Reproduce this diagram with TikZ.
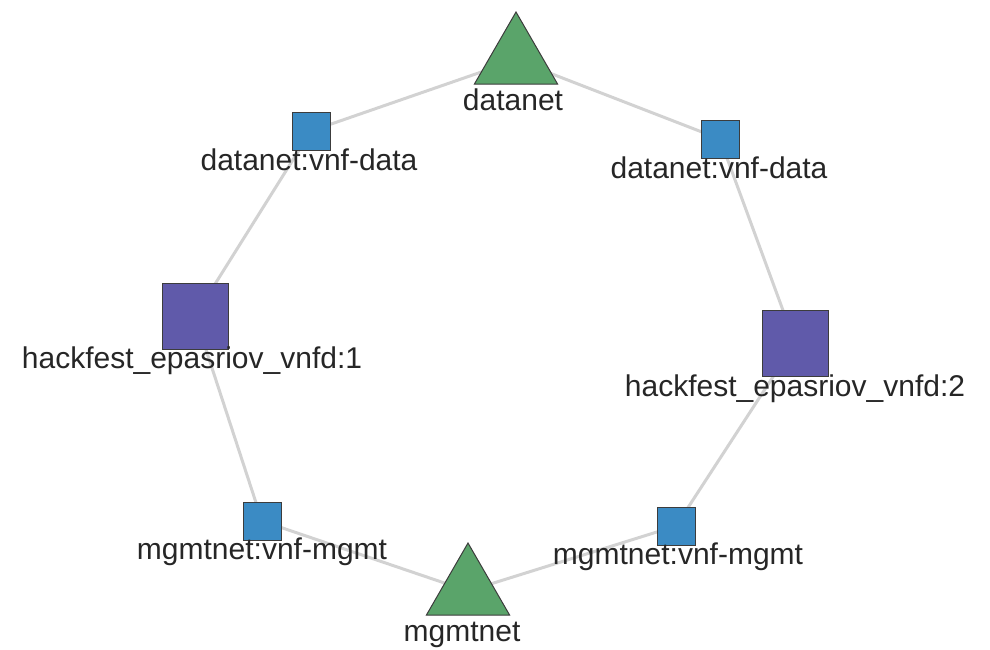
\documentclass[tikz,border=0pt]{standalone}
\usepackage{fontspec}
\setmainfont{Liberation Sans}
\usetikzlibrary{shapes.geometric,backgrounds}
\definecolor{netgreen}{RGB}{90,164,106}
\definecolor{portblue}{RGB}{59,139,196}
\definecolor{vnfpurple}{RGB}{96,90,170}
\definecolor{linkgray}{RGB}{210,210,210}
\definecolor{edgedark}{RGB}{60,60,60}
\begin{document}
\begin{tikzpicture}[x=0.5pt, y=-0.5pt,
  net/.style={regular polygon, regular polygon sides=3, minimum size=48pt,
    inner sep=0pt, outer sep=0pt, draw=edgedark, line width=0.5pt, fill=netgreen},
  port/.style={rectangle, minimum size=19pt, inner sep=0pt,
    draw=edgedark, line width=0.5pt, fill=portblue},
  vnf/.style={rectangle, minimum size=33pt, inner sep=0pt,
    draw=edgedark, line width=0.5pt, fill=vnfpurple},
  lbl/.style={anchor=base, inner sep=0pt, text=black!85,
    font=\fontsize{15}{18}\selectfont},
  link/.style={draw=linkgray, line width=1.5pt}
]
  \useasboundingbox (0,0) rectangle (990,649);

  \node[net] (datanet) at (516,60) {};
  \node[net] (mgmtnet) at (468,591) {};
  \node[port] (data1) at (311,131) {};
  \node[port] (data2) at (720,139) {};
  \node[vnf] (vnfd1) at (195,316) {};
  \node[vnf] (vnfd2) at (795,343) {};
  \node[port] (mgmt1) at (262,521) {};
  \node[port] (mgmt2) at (676,526) {};

  \node[lbl] (datanet-l) at (513,110) {datanet};
  \node[lbl] (data1-l) at (309,170) {datanet:vnf-data};
  \node[lbl] (data2-l) at (719,178) {datanet:vnf-data};
  \node[lbl] (vnfd1-l) at (192,368) {hackfest\_epasriov\_vnfd:1};
  \node[lbl] (vnfd2-l) at (795,396) {hackfest\_epasriov\_vnfd:2};
  \node[lbl] (mgmt1-l) at (262,559) {mgmtnet:vnf-mgmt};
  \node[lbl] (mgmt2-l) at (678,564) {mgmtnet:vnf-mgmt};
  \node[lbl] (mgmtnet-l) at (462,641) {mgmtnet};

  \begin{pgfonlayer}{background}
    \draw[link] (datanet.center) -- (data1.center);
    \draw[link] (data1.center) -- (vnfd1.center);
    \draw[link] (vnfd1.center) -- (mgmt1.center);
    \draw[link] (mgmt1.center) -- (mgmtnet.center);
    \draw[link] (mgmtnet.center) -- (mgmt2.center);
    \draw[link] (mgmt2.center) -- (vnfd2.center);
    \draw[link] (vnfd2.center) -- (data2.center);
    \draw[link] (data2.center) -- (datanet.center);
  \end{pgfonlayer}
\end{tikzpicture}
\end{document}
